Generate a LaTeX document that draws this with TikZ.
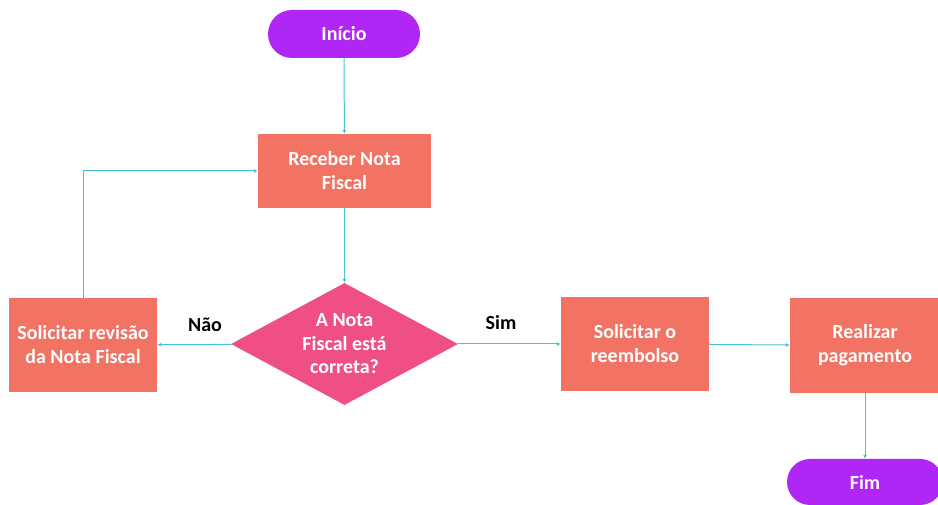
\documentclass[tikz,border=0pt]{standalone}
\usepackage{fontspec}
\setmainfont{Carlito}
\usetikzlibrary{shapes.geometric,arrows.meta}
\definecolor{pillc}{HTML}{B026F5}
\definecolor{boxc}{HTML}{F27363}
\definecolor{diac}{HTML}{EF4F86}
\definecolor{linec}{HTML}{45C3D6}
\tikzset{
  pill/.style={draw=none,fill=pillc,rounded corners=24pt,minimum width=152pt,minimum height=48pt,text=white,font=\bfseries\fontsize{20}{24}\selectfont},
  stepbox/.style={draw=none,fill=boxc,minimum width=148pt,minimum height=94pt,inner sep=2pt,text=white,align=center,font=\bfseries\fontsize{20}{24}\selectfont},
  decision/.style={draw=none,fill=diac,diamond,aspect=1.86,minimum width=227pt,minimum height=122pt,inner sep=0pt,text=white,align=center,font=\bfseries\fontsize{20}{23.5}\selectfont},
  conn/.style={draw=linec,line width=1pt,-{Latex[length=4pt,width=4pt]}},
  lbl/.style={text=black,font=\bfseries\fontsize{20}{24}\selectfont}
}
\begin{document}
\begin{tikzpicture}[x=1pt,y=1pt]
\useasboundingbox (0,0) rectangle (938,505);
\begin{scope}
\clip (0,0) rectangle (938,505);
\node[pill] (ini) at (344,471) {Início};
\node[stepbox,minimum width=173pt,minimum height=74pt] (rec) at (344.5,334) {Receber Nota\\Fiscal};
\node[decision] (dec) at (344.5,161) {A Nota\\Fiscal está\\correta?};
\node[stepbox] (rev) at (83,160) {Solicitar revisão\\da Nota Fiscal};
\node[stepbox] (ree) at (635,161) {Solicitar o\\reembolso};
\node[stepbox,minimum width=150pt,minimum height=95pt] (pag) at (865,159.5) {Realizar\\pagamento};
\node[pill,minimum width=156pt,minimum height=46pt,rounded corners=23pt] (fim) at (865,23) {Fim};
\end{scope}
\draw[conn] (ini) -- (rec);
\draw[conn] (rec) -- (dec);
\draw[conn] (dec) -- (rev);
\draw[conn] (dec) -- (ree);
\draw[conn] (ree) -- (pag);
\draw[conn] (pag) -- (fim);
\draw[conn] (rev.north) |- (rec.west);
\node[lbl] (nao) at (205,180) {Não};
\node[lbl] (sim) at (501,182) {Sim};
\end{tikzpicture}
\end{document}
